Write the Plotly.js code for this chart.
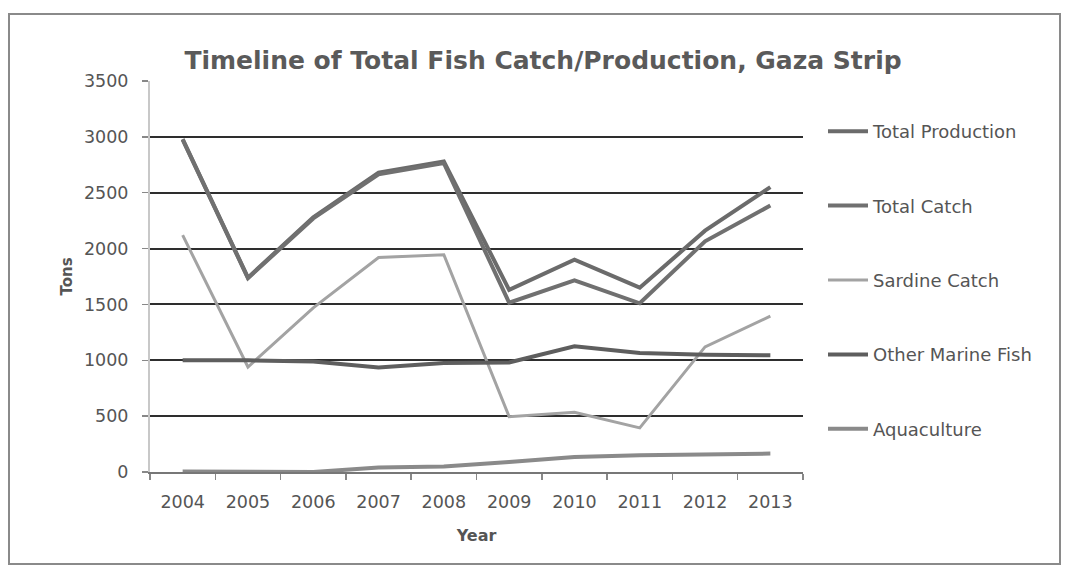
<!DOCTYPE html>
<html>
<head>
<meta charset="utf-8">
<script src="https://cdn.plot.ly/plotly-3.0.1.min.js"></script>
<style>html,body{margin:0;padding:0;background:#fff;}#chart{width:1068px;height:569px;}</style>
</head>
<body>
<div id="chart"></div>
<script>
var years = ["2004","2005","2006","2007","2008","2009","2010","2011","2012","2013"];
var totalProduction = [2980, 1740, 2280, 2680, 2780, 1630, 1900, 1650, 2160, 2550];
var totalCatch      = [2975, 1735, 2270, 2665, 2765, 1515, 1715, 1510, 2065, 2385];
var sardineCatch    = [2120, 940, 1470, 1920, 1945, 495, 535, 395, 1120, 1395];
var otherMarine     = [1000, 1000, 990, 935, 975, 980, 1125, 1065, 1050, 1045];
var aquaculture     = [5, 0, 0, 40, 50, 90, 135, 150, 160, 165];
var seriesNames = ["Total Production","Total Catch","Sardine Catch","Other Marine Fish","Aquaculture"];
var seriesColors = ["#6b6b6b","#707070","#a3a3a3","#5e5e5e","#8a8a8a"];
var seriesWidths = [4, 4, 3, 4, 4];
var seriesData = [totalProduction, totalCatch, sardineCatch, otherMarine, aquaculture];

var traces = seriesData.map(function(d, i){
  return {
    x: years, y: d, type: "scatter", mode: "lines",
    name: seriesNames[i], legendgroup: "g" + i,
    line: {color: seriesColors[i], width: seriesWidths[i]}
  };
});

var W = 653, H = 391, L = 150, T = 81;
function px(x){ return (x - L) / W; }
function py(y){ return (T + H - y) / H; }

var FONT = "'DejaVu Sans', 'Open Sans', sans-serif";
var layout = {
  width: 1068, height: 569,
  margin: {l: 150, r: 265, t: 81, b: 97},
  paper_bgcolor: "#ffffff", plot_bgcolor: "#ffffff",
  font: {family: FONT, color: "#555"},
  title: {text: "<b>Timeline of Total Fish Catch/Production, Gaza Strip</b>",
          font: {size: 25, color: "#5a5a5a", family: FONT},
          x: 543/1068, xanchor: "center", y: 1 - 60/569, yanchor: "middle", yref: "container"},
  xaxis: {type: "category", range: [-0.5, 9.5], tickson: "boundaries",
          ticks: "outside", ticklen: 6, tickcolor: "#888", tickwidth: 1.5,
          ticklabelstandoff: 13,
          showline: true, linecolor: "#777", linewidth: 2,
          showgrid: false, zeroline: false,
          tickfont: {size: 17.5, color: "#555"},
          title: {text: "<b>Year</b>", font: {size: 16, color: "#555"}, standoff: 19}},
  yaxis: {range: [0, 3500], dtick: 500, showgrid: true, gridcolor: "#2e2e2e", gridwidth: 2,
          zeroline: false, showline: true, linecolor: "#c8c8c8", linewidth: 2,
          ticks: "outside", ticklen: 6, tickcolor: "#888", tickwidth: 1.5,
          ticklabelstandoff: 10, tickfont: {size: 17.5, color: "#555"},
          title: {text: "<b>Tons</b>", font: {size: 15, color: "#555"}, standoff: 8}},
  showlegend: true,
  legend: {x: px(823), y: py(113), xanchor: "left", yanchor: "top",
           font: {size: 18, color: "#555", family: FONT}, tracegroupgap: 48,
           bgcolor: "rgba(0,0,0,0)", itemwidth: 40},
  shapes: [
    {type: "rect", xref: "paper", yref: "paper",
     x0: px(9), x1: px(1060), y0: py(564), y1: py(14),
     line: {color: "#8a8a8a", width: 2}, fillcolor: "rgba(0,0,0,0)", layer: "below"}
  ]
};

Plotly.newPlot("chart", traces, layout, {displayModeBar: false, staticPlot: true});
</script>
</body>
</html>
